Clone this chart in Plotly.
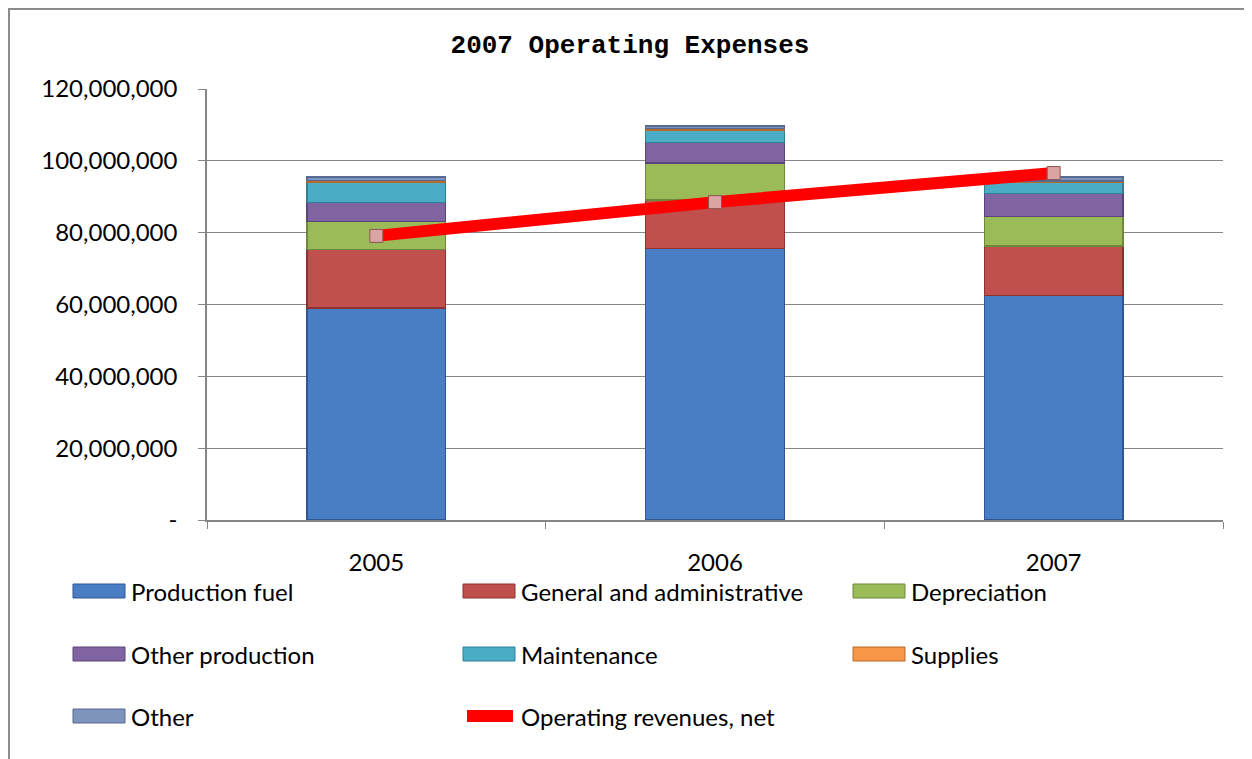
import plotly.graph_objects as go

years = ["2005", "2006", "2007"]
series_names = ["Production fuel", "General and administrative", "Depreciation",
                "Other production", "Maintenance", "Supplies", "Other"]
production_fuel = [59.0e6, 75.7e6, 62.4e6]
general_admin = [16.4e6, 13.4e6, 13.9e6]
depreciation = [7.8e6, 10.3e6, 8.1e6]
other_production = [5.3e6, 5.6e6, 6.4e6]
maintenance = [5.6e6, 3.6e6, 3.3e6]
supplies = [0.4e6, 0.3e6, 0.3e6]
other = [1.0e6, 0.8e6, 1.1e6]
operating_revenues = [79.1e6, 88.5e6, 96.6e6]
line_name = "Operating revenues, net"

y_tickvals = [0, 20e6, 40e6, 60e6, 80e6, 100e6, 120e6]
y_ticktext = ["-", "20,000,000", "40,000,000", "60,000,000", "80,000,000", "100,000,000", "120,000,000"]

series_values = [production_fuel, general_admin, depreciation, other_production,
                 maintenance, supplies, other]
colors = ["#4a7ec4", "#c0504d", "#9bbb59", "#8064a2", "#4bacc6", "#f79646", "#7f94bd"]
edge_colors = ["#2e5690", "#8c3331", "#6d8a3a", "#5a4578", "#2f7f95", "#b86a2a", "#566b92"]

FONT = "Lato, Noto Sans, sans-serif"

fig = go.Figure()
for name, vals, c, ec in zip(series_names, series_values, colors, edge_colors):
    fig.add_trace(go.Bar(x=years, y=vals, name=name, marker=dict(color=c, line=dict(color=ec, width=1.2)),
                         showlegend=False))

fig.add_trace(go.Scatter(x=years, y=operating_revenues, name=line_name, mode="lines+markers",
                         line=dict(color="#ff0000", width=12),
                         marker=dict(symbol="square", size=13, color="#dca3a3",
                                     line=dict(color="#8a5555", width=1)),
                         showlegend=False))

# the page adds an 8px body margin; work in page pixels and convert
OFF = 8
FW, FH = 1252 - OFF, 759 - OFF
L, R, T, B = 207 - OFF, 1223 - OFF, 89 - OFF, 520 - OFF
W, H = R - L, B - T

def px_x(px):
    return (px - OFF - L) / W

def px_y(py):
    return (B - (py - OFF)) / H

shapes = []
annotations = []
# outer chart border
shapes.append(dict(type="rect", xref="paper", yref="paper",
                   x0=px_x(9), x1=px_x(1300), y0=px_y(9), y1=px_y(800),
                   line=dict(color="#8c8c8c", width=2), fillcolor="rgba(0,0,0,0)", layer="below"))

# manual legend (3 columns)
legend_items = [(n, "bar", c, ec) for n, c, ec in zip(series_names, colors, edge_colors)]
legend_items.append((line_name, "line", "#ff0000", "#ff0000"))
col_x = [73, 463, 853]
row_y = [591, 654, 716]
for i, (name, kind, c, ec) in enumerate(legend_items):
    cx = col_x[i % 3]
    cy = row_y[i // 3]
    if kind == "bar":
        shapes.append(dict(type="rect", xref="paper", yref="paper",
                           x0=px_x(cx), x1=px_x(cx + 52), y0=px_y(cy + 7), y1=px_y(cy - 7),
                           line=dict(color=ec, width=1), fillcolor=c))
    else:
        shapes.append(dict(type="line", xref="paper", yref="paper",
                           x0=px_x(cx + 4), x1=px_x(cx + 50), y0=px_y(cy), y1=px_y(cy),
                           line=dict(color=c, width=12)))
    annotations.append(dict(xref="paper", yref="paper", x=px_x(cx + 56), y=px_y(cy),
                            text=name, showarrow=False, xanchor="left", yanchor="middle",
                            font=dict(family=FONT, size=24, color="#000000")))

fig.update_layout(
    width=FW, height=FH,
    margin=dict(l=L, r=FW - R, t=T, b=FH - B),
    paper_bgcolor="white", plot_bgcolor="white",
    barmode="stack", bargap=0.59,
    title=dict(text="<b>2007 Operating Expenses</b>", x=(630 - OFF) / FW, xref="container", xanchor="center",
               y=1 - (44 - OFF) / FH, yref="container", yanchor="middle",
               font=dict(family="Liberation Mono, Courier New, monospace", size=26, color="#000000")),
    font=dict(family=FONT, size=24, color="#000000"),
    xaxis=dict(type="category", showline=True, linecolor="#868686", linewidth=1.5,
               ticks="outside", tickson="boundaries", ticklen=7, tickcolor="#868686",
               ticklabelstandoff=20, showgrid=False, tickfont=dict(size=24)),
    yaxis=dict(range=[0, 120e6], tickvals=y_tickvals, ticktext=y_ticktext,
               showline=True, linecolor="#868686", linewidth=1.5,
               ticks="outside", ticklen=7, tickcolor="#868686",
               showgrid=True, gridcolor="#868686", gridwidth=1, zeroline=False,
               ticklabelstandoff=16, tickfont=dict(size=24)),
    shapes=shapes, annotations=annotations, showlegend=False,
)

fig.write_html("out.html")
